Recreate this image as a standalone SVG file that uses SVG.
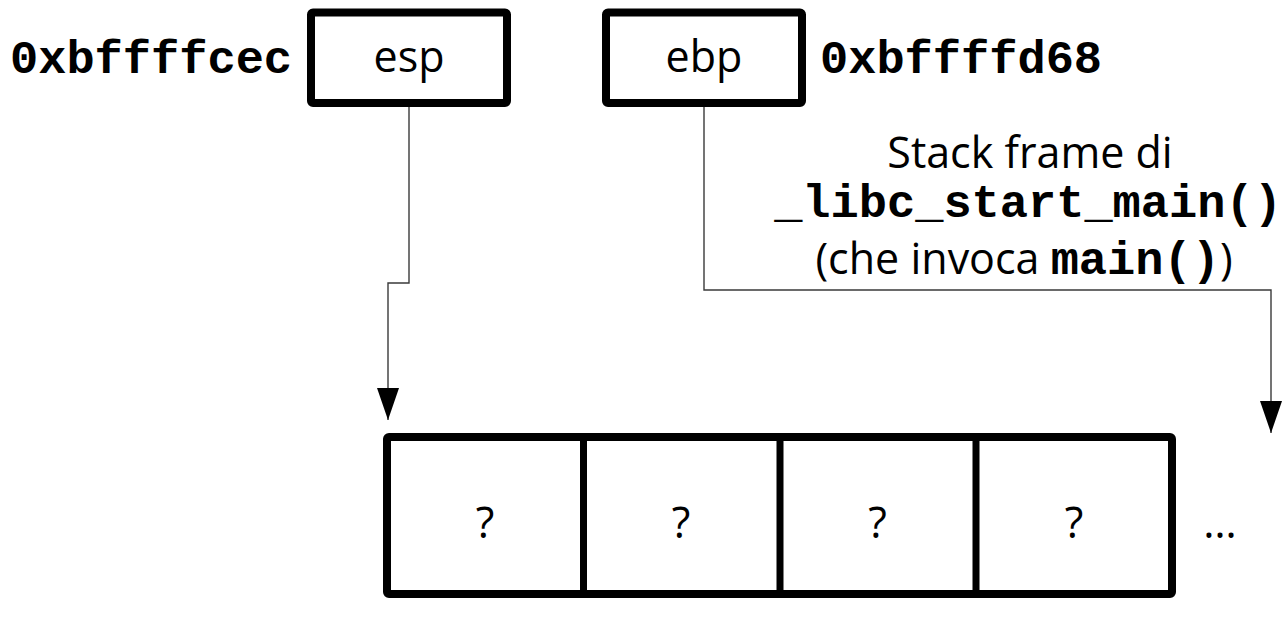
<svg xmlns="http://www.w3.org/2000/svg" width="1284" height="619" viewBox="0 0 1284 619">
  <style>
    .box { fill: #ffffff; stroke: #000000; stroke-width: 8; stroke-linejoin: round; }
    .cell { stroke: #000000; stroke-width: 7; }
    .lbl { font-family: "Open Sans", "Liberation Sans", sans-serif; font-size: 43px; fill: #000000; text-anchor: middle; }
    .mono { font-family: "Liberation Mono", "DejaVu Sans Mono", monospace; font-weight: bold; font-size: 47px; fill: #000000; }
    .wire { fill: none; stroke: #3a3a3a; stroke-width: 1.4; }
  </style>
  <defs>
    <marker id="arrow" markerUnits="userSpaceOnUse" markerWidth="32" markerHeight="22" viewBox="0 -11 32 22" refX="32" refY="0" orient="auto">
      <path d="M0,-11 L32,0 L0,11 Z" fill="#000000"/>
    </marker>
  </defs>
  <rect width="1284" height="619" fill="#ffffff"/>

  <!-- pointer lines from the registers into the stack -->
  <g id="connectors">
    <path class="wire" d="M409,107 V283 H388 V420" marker-end="url(#arrow)"/>
    <path class="wire" d="M704,107 V290 H1271 V433" marker-end="url(#arrow)"/>
  </g>

  <!-- esp register -->
  <g id="esp">
    <text class="mono" x="10" y="73">0xbffffcec</text>
    <rect class="box" x="311" y="12.5" width="196" height="90.5" rx="2"/>
    <text class="lbl" x="409" y="72">esp</text>
  </g>

  <!-- ebp register -->
  <g id="ebp">
    <rect class="box" x="606" y="12.5" width="196" height="90.5" rx="2"/>
    <text class="lbl" x="704" y="72">ebp</text>
    <text class="mono" x="820" y="73">0xbffffd68</text>
  </g>

  <!-- caller frame note -->
  <g id="frame-note">
    <text class="lbl" x="1030" y="168">Stack frame di</text>
    <text class="mono" x="1028" y="217" text-anchor="middle">_libc_start_main()</text>
    <text class="lbl" x="1024" y="274">(che invoca <tspan class="mono">main()</tspan>)</text>
  </g>

  <!-- stack cells -->
  <g id="stack">
    <rect class="box" x="387" y="437" width="785" height="157" rx="2"/>
    <line class="cell" x1="583.5" y1="437" x2="583.5" y2="594"/>
    <line class="cell" x1="780" y1="437" x2="780" y2="594"/>
    <line class="cell" x1="976" y1="437" x2="976" y2="594"/>
    <text class="lbl" x="485" y="538">?</text>
    <text class="lbl" x="681" y="538">?</text>
    <text class="lbl" x="877.5" y="538">?</text>
    <text class="lbl" x="1074" y="538">?</text>
    <text class="lbl" x="1220" y="538">…</text>
  </g>
</svg>
